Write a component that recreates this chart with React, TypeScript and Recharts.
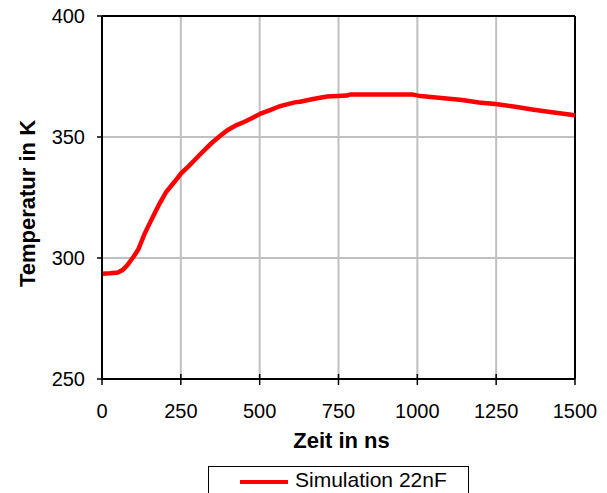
import React from 'react'
import {
  LineChart,
  Line,
  XAxis,
  YAxis,
  CartesianGrid,
  ReferenceLine,
} from 'recharts'

// time in ns
const timeNs = [
  0, 25, 50, 65, 80, 100, 115, 135, 150, 167, 183, 204, 230, 251, 275, 294, 320,
  347, 375, 399, 425, 452, 478, 505, 535, 565, 611, 628, 670, 713, 777, 787, 983,
  1010, 1068, 1142, 1195, 1248, 1311, 1364, 1427, 1500,
]

// temperature in K
const tempK = [
  293.5, 293.7, 294, 295, 297, 300.5, 303.5, 310, 314, 318.5, 322.6, 327.4, 331.5,
  335, 338, 340.5, 344, 347.4, 350.5, 352.9, 354.8, 356.3, 358, 359.8, 361.2, 362.8,
  364.3, 364.6, 365.7, 366.7, 367.1, 367.6, 367.6, 366.9, 366.2, 365.3, 364.3, 363.6,
  362.5, 361.4, 360.2, 359,
]

const xTicks = [0, 250, 500, 750, 1000, 1250, 1500]
const yTicks = [250, 300, 350, 400]

const seriesName = 'Simulation 22nF'
const xTitle = 'Zeit in ns'
const yTitle = 'Temperatur in K'

const data = timeNs.map((t, i) => ({ t, temp: tempK[i] }))

const FONT = "'Liberation Sans', Arial, sans-serif"
const TICK_SIZE = 6
const TICK_MARGIN = 19

// x ticks cross the axis line, so draw the tick mark ourselves
function XTick(props: any) {
  const { x, y, payload } = props
  const axisY = y - TICK_MARGIN - TICK_SIZE
  return (
    <g>
      <line x1={x} x2={x} y1={axisY - 5} y2={axisY + TICK_SIZE} stroke="#000" strokeWidth={1.5} />
      <text x={x} y={y + 14} textAnchor="middle" fontSize={20} fontFamily={FONT} fill="#000">
        {payload.value}
      </text>
    </g>
  )
}

export default function App() {
  return (
    <div style={{ position: 'absolute', left: 0, top: 0, width: 607, height: 493, background: '#fff', overflow: 'hidden' }}>
      <LineChart
        width={607}
        height={493}
        data={data}
        margin={{ top: 16, right: 32, left: 0, bottom: 0 }}
      >
        <CartesianGrid stroke="#c0c0c0" strokeWidth={2} />
        <XAxis
          dataKey="t"
          type="number"
          domain={[0, 1500]}
          ticks={xTicks}
          height={114}
          stroke="#000"
          strokeWidth={2}
          tickLine={false}
          tickSize={TICK_SIZE}
          tickMargin={TICK_MARGIN}
          tick={<XTick />}
          label={{
            content: (p: any) => {
              const vb = p.viewBox
              return (
                <text
                  x={vb.x + vb.width / 2 + 3}
                  y={448}
                  textAnchor="middle"
                  fontSize={22}
                  fontWeight="bold"
                  fontFamily={FONT}
                  fill="#000"
                >
                  {xTitle}
                </text>
              )
            },
          }}
        />
        <YAxis
          type="number"
          domain={[250, 400]}
          ticks={yTicks}
          width={102}
          stroke="#000"
          strokeWidth={2}
          tickSize={5}
          tickMargin={12}
          tick={{ fontSize: 20, fontFamily: FONT, fill: '#000' }}
          tickLine={{ stroke: '#000', strokeWidth: 1.5 }}
          label={{
            content: (p: any) => {
              const vb = p.viewBox
              const cx = vb.x + 35
              const cy = vb.y + vb.height / 2 + 6
              return (
                <text
                  x={cx}
                  y={cy}
                  transform={`rotate(-90 ${cx} ${cy})`}
                  textAnchor="middle"
                  fontSize={22}
                  fontWeight="bold"
                  fontFamily={FONT}
                  fill="#000"
                >
                  {yTitle}
                </text>
              )
            },
          }}
        />
        {/* plot frame on top and right */}
        <ReferenceLine y={400} stroke="#000" strokeWidth={2} />
        <ReferenceLine x={1500} stroke="#000" strokeWidth={2} />
        <Line
          type="linear"
          dataKey="temp"
          name={seriesName}
          stroke="#ff0000"
          strokeWidth={4.5}
          dot={false}
          isAnimationActive={false}
        />
      </LineChart>
      <div
        style={{
          position: 'absolute',
          left: 208,
          top: 466,
          width: 261,
          height: 40,
          border: '1.5px solid #000',
          boxSizing: 'border-box',
          fontFamily: FONT,
        }}
      >
        <div style={{ position: 'absolute', left: 31, top: 13, width: 48, height: 4, background: '#ff0000' }} />
        <div style={{ position: 'absolute', left: 86, top: 1, fontSize: 21, lineHeight: '24px', color: '#000', whiteSpace: 'nowrap' }}>
          {seriesName}
        </div>
      </div>
    </div>
  )
}
